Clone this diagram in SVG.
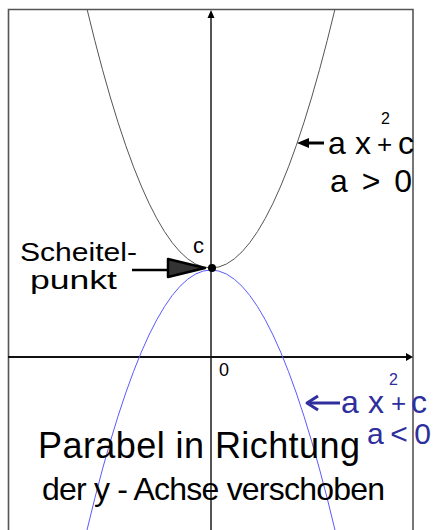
<svg xmlns="http://www.w3.org/2000/svg" width="436" height="530" viewBox="0 0 436 530">
<defs>
<style>
.hand{font-family:"Liberation Sans","DejaVu Sans",sans-serif;fill:#000}
.blue{fill:#2e2e9c}
.ax{stroke:#555;stroke-width:2;fill:none}
</style>
</defs>
<rect x="0" y="0" width="436" height="530" fill="#fff"/>
<g id="frame">
<path d="M8.5,530 V9.5 H413 V530" fill="none" stroke="#555" stroke-width="1.6"/>
</g>
<g id="axes">
<line x1="211" y1="530" x2="211" y2="16" class="ax"/>
<polygon points="211,10 207.5,18 214.5,18" fill="#000"/>
<line x1="8" y1="357" x2="407" y2="357" stroke="#111" stroke-width="2"/>
<polygon points="413,357 406,353 406,361" fill="#000"/>
</g>
<g id="curves">
<path id="upper" d="M87,9 Q211,527 335,9" fill="none" stroke="#555" stroke-width="1"/>
<path id="lower" d="M87,530 Q211,10 335,530" fill="none" stroke="#5a5aff" stroke-width="1"/>
</g>
<g id="vertex">
<circle cx="212" cy="268" r="4" fill="#000"/>
<text class="hand" x="193" y="253" font-size="22">c</text>
</g>
<g id="scheitelpunkt">
<text class="hand" x="20" y="261" font-size="25" textLength="117" lengthAdjust="spacingAndGlyphs">Scheitel-</text>
<text class="hand" x="30" y="289" font-size="25" textLength="87" lengthAdjust="spacingAndGlyphs">punkt</text>
<line x1="132" y1="270" x2="170" y2="270" stroke="#000" stroke-width="2.5"/>
<polygon points="168,259 205,268 168,277" fill="#333" stroke="#000" stroke-width="2.5" stroke-linejoin="round"/>
</g>
<g id="label-upper">
<line x1="304" y1="143" x2="324" y2="143" stroke="#000" stroke-width="3"/>
<polygon points="297,143 309,138 309,148" fill="#000"/>
<text class="hand" font-size="32"><tspan x="328" y="154">a</tspan><tspan x="355" y="154">x</tspan><tspan x="398" y="154">c</tspan></text>
<text class="hand" x="377" y="153" font-size="26">+</text>
<text class="hand" x="381" y="124" font-size="16">2</text>
<text class="hand" x="330" y="192" font-size="32" textLength="82">a&gt;0</text>
</g>
<g id="label-lower">
<line x1="310" y1="403" x2="340" y2="403" stroke="#2e2e9c" stroke-width="3"/>
<polyline points="318,396 307,403 318,410" fill="none" stroke="#2e2e9c" stroke-width="3" stroke-linejoin="round"/>
<text class="hand blue" font-size="32"><tspan x="341" y="413">a</tspan><tspan x="368" y="413">x</tspan><tspan x="411" y="413">c</tspan></text>
<text class="hand blue" x="391" y="412" font-size="26">+</text>
<text class="hand blue" x="389" y="385" font-size="16">2</text>
<text class="hand blue" x="367" y="444" font-size="30" textLength="64">a&lt;0</text>
</g>
<g id="origin">
<text class="hand" x="219" y="376" font-size="18">0</text>
</g>
<g id="caption">
<text class="hand" x="38" y="458" font-size="36" textLength="322">Parabel in Richtung</text>
<text class="hand" x="42" y="500" font-size="32" textLength="343">der y - Achse verschoben</text>
</g>
</svg>
